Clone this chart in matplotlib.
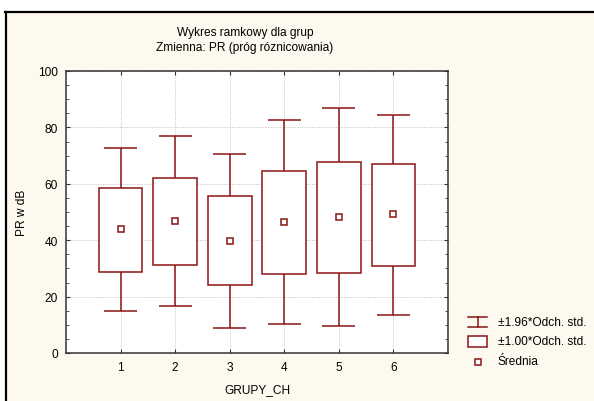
import matplotlib
matplotlib.use("Agg")
import matplotlib.pyplot as plt
from matplotlib.patches import Rectangle
from matplotlib.lines import Line2D
import numpy as np

plt.rcParams['font.family'] = ['Liberation Sans', 'DejaVu Sans']

groups = [1, 2, 3, 4, 5, 6]
srednia = [43.8, 46.8, 39.7, 46.4, 48.4, 49.2]
sd1_low = [28.9, 31.2, 24.1, 27.9, 28.4, 30.8]
sd1_high = [58.5, 61.9, 55.7, 64.5, 67.9, 67.0]
sd196_low = [14.9, 16.5, 8.7, 10.2, 9.6, 13.3]
sd196_high = [72.6, 76.8, 70.4, 82.5, 87.0, 84.5]
legend_labels = ["±1.96*Odch. std.", "±1.00*Odch. std.", "Średnia"]

W, H = 594, 402
red = "#8b1414"
cream = "#fef9ee"
fs = 8.6

def px(x, y):
    return x / W, 1 - y / H

fig = plt.figure(figsize=(W / 100, H / 100), dpi=100, facecolor="white")

# tlo i ramka
fig.add_artist(Rectangle(px(6, 402), (W - 6) / W, (402 - 13) / H,
                         transform=fig.transFigure, facecolor=cream,
                         edgecolor="none", zorder=-10))
fig.add_artist(Line2D([6 / W, 6 / W], [0, 1 - 13 / H], transform=fig.transFigure,
                      color="black", lw=1.6))
fig.add_artist(Line2D([5 / W, 1], [1 - 13 / H, 1 - 13 / H], transform=fig.transFigure,
                      color="black", lw=1.6))

ax = fig.add_axes([66 / W, 1 - 354 / H, (448 - 66) / W, (354 - 72) / H])
ax.set_facecolor("white")

x = np.array(groups)
lo = np.array(sd1_low)
hi = np.array(sd1_high)
ax.bar(x, hi - lo, bottom=lo, width=0.8, facecolor="white", edgecolor=red,
       linewidth=1.1, zorder=3)
ax.vlines(x, sd196_low, lo, color=red, lw=1.1, zorder=3)
ax.vlines(x, hi, sd196_high, color=red, lw=1.1, zorder=3)
ax.hlines(sd196_low, x - 0.3, x + 0.3, color=red, lw=1.1, zorder=3)
ax.hlines(sd196_high, x - 0.3, x + 0.3, color=red, lw=1.1, zorder=3)
ax.plot(x, srednia, ls="none", marker="s", ms=4.5, mfc="white", mec=red,
        mew=1.1, zorder=4)

ax.set_xlim(0, 7)
ax.set_ylim(0, 100)
ax.set_xticks(groups)
ax.set_yticks(range(0, 101, 20))
ax.set_yticks(range(0, 101, 5), minor=True)
ax.grid(True, which="major", color="#c0c0c0", ls=(0, (1, 1.5)), lw=0.7, zorder=0)
ax.tick_params(which="both", direction="in", top=True, right=True, labelsize=fs,
               color="#333333")
ax.tick_params(which="major", length=3, pad=6)
ax.tick_params(which="minor", length=2)
ax.tick_params(axis="x", which="minor", top=False, bottom=False)
for s in ax.spines.values():
    s.set_color("#333333")
    s.set_linewidth(1.1)

ax.set_xlabel("GRUPY_CH", fontsize=fs, labelpad=7)
ax.set_ylabel("PR w dB", fontsize=fs, labelpad=7)

fig.text(*px(245, 33), "Wykres ramkowy dla grup", fontsize=fs, ha="center", va="center")
fig.text(*px(245, 48), "Zmienna: PR (próg róznicowania)", fontsize=fs,
         ha="center", va="center")

# legenda
lw = 1.1
x0, x1 = 468, 487
fig.add_artist(Line2D([x0 / W, x1 / W], [1 - 317.5 / H] * 2, transform=fig.transFigure,
                      color=red, lw=lw))
fig.add_artist(Line2D([x0 / W, x1 / W], [1 - 327.5 / H] * 2, transform=fig.transFigure,
                      color=red, lw=lw))
fig.add_artist(Line2D([(x0 + x1) / 2 / W] * 2, [1 - 317.5 / H, 1 - 327.5 / H],
                      transform=fig.transFigure, color=red, lw=lw))
fig.add_artist(Rectangle(px(x0, 348), (x1 - x0) / W, 11 / H, transform=fig.transFigure,
                         facecolor="white", edgecolor=red, lw=lw))
fig.add_artist(Line2D([478 / W], [1 - 362.5 / H], transform=fig.transFigure, ls="none",
                      marker="s", ms=4.5, mfc="white", mec=red, mew=lw))
for yy, lab in zip([322.5, 342.5, 362.5], legend_labels):
    fig.text(*px(498, yy), lab, fontsize=fs, ha="left", va="center")

fig.savefig("out.png", dpi=100, facecolor="white")
